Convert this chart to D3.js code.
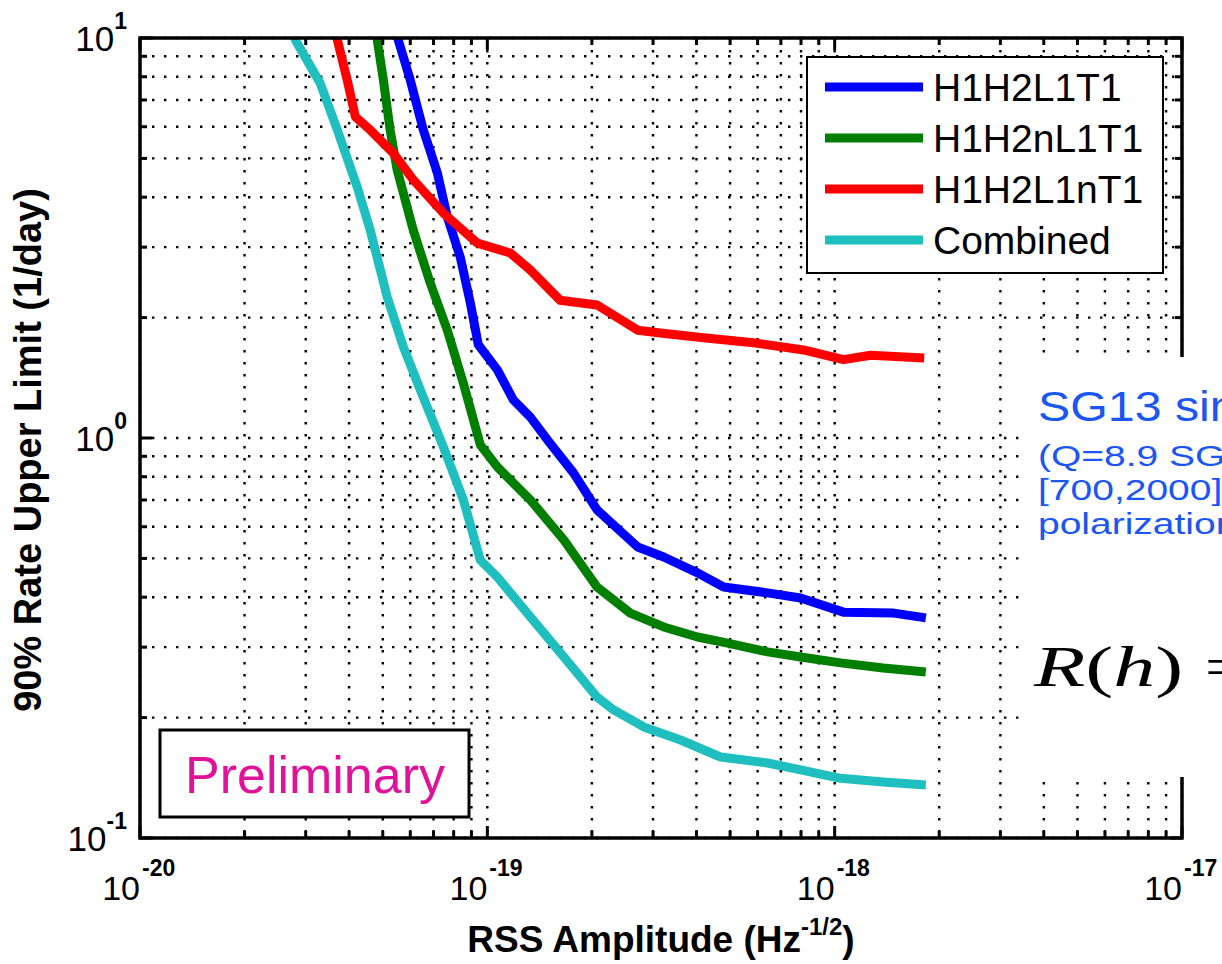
<!DOCTYPE html>
<html>
<head>
<meta charset="utf-8">
<script src="https://cdnjs.cloudflare.com/ajax/libs/d3/7.8.5/d3.min.js"></script>
<style>
  html, body { margin: 0; padding: 0; background: #fff; }
  svg { display: block; font-family: "Liberation Sans", Arial, sans-serif; }
</style>
</head>
<body>
<div id="chart"></div>
<script>
// values: RSS amplitude (Hz^-1/2) vs 90% rate upper limit (1/day)
const seriesNames = ['H1H2L1T1', 'H1H2nL1T1', 'H1H2L1nT1', 'Combined'];

const ampH1H2L1T1 = [5.43e-20, 5.54e-20, 6.00e-20, 6.54e-20, 7.18e-20, 7.67e-20, 8.36e-20, 8.93e-20, 9.42e-20,
  1.069e-19, 1.188e-19, 1.33e-19, 1.49e-19, 1.77e-19, 2.07e-19, 2.71e-19, 3.22e-19, 4.03e-19, 4.79e-19,
  6.41e-19, 7.98e-19, 1.06e-18, 1.48e-18, 1.83e-18];
const rateH1H2L1T1 = [10.6, 9.89, 7.85, 5.89, 4.60, 3.57, 2.83, 2.18, 1.71,
  1.48, 1.245, 1.128, 0.989, 0.818, 0.661, 0.534, 0.504, 0.460, 0.424,
  0.410, 0.398, 0.367, 0.365, 0.355];

const ampH1H2nL1T1 = [4.77e-20, 4.82e-20, 5.02e-20, 5.25e-20, 5.50e-20, 6.12e-20, 6.85e-20, 7.67e-20, 8.53e-20,
  9.55e-20, 1.069e-19, 1.33e-19, 1.66e-19, 2.07e-19, 2.58e-19, 3.22e-19, 4.03e-19, 4.92e-19,
  6.41e-19, 7.98e-19, 1.04e-18, 1.38e-18, 1.83e-18];
const rateH1H2nL1T1 = [10.6, 9.89, 7.85, 5.89, 4.68, 3.31, 2.44, 1.86, 1.37,
  0.960, 0.846, 0.700, 0.556, 0.424, 0.365, 0.337, 0.318, 0.307,
  0.292, 0.2835, 0.274, 0.266, 0.260];

const ampH1H2L1nT1 = [3.64e-20, 3.70e-20, 3.95e-20, 4.17e-20, 4.60e-20, 5.36e-20, 6.12e-20, 7.47e-20, 9.36e-20,
  1.165e-19, 1.33e-19, 1.62e-19, 2.07e-19, 2.71e-19, 3.15e-19, 4.19e-19, 5.84e-19, 8.14e-19,
  1.06e-18, 1.27e-18, 1.81e-18];
const rateH1H2L1nT1 = [10.6, 9.89, 7.85, 6.35, 5.89, 5.16, 4.42, 3.65, 3.07,
  2.90, 2.63, 2.21, 2.15, 1.86, 1.83, 1.78, 1.73, 1.66,
  1.57, 1.61, 1.585];

const ampCombined = [2.74e-20, 2.80e-20, 3.30e-20, 3.70e-20, 4.22e-20, 4.60e-20, 5.15e-20, 5.73e-20, 6.41e-20,
  7.47e-20, 8.53e-20, 9.55e-20, 1.069e-19, 1.33e-19, 1.66e-19, 2.07e-19, 2.31e-19, 2.82e-19,
  3.60e-19, 4.69e-19, 6.41e-19, 7.98e-19, 1.04e-18, 1.38e-18, 1.83e-18];
const rateCombined = [10.6, 9.89, 7.72, 5.89, 4.24, 3.31, 2.25, 1.69, 1.32,
  0.950, 0.700, 0.495, 0.449, 0.357, 0.2835, 0.225, 0.209, 0.1895,
  0.1758, 0.1594, 0.154, 0.148, 0.141, 0.138, 0.1357];

const xDecades = [-20, -19, -18, -17];
const yDecades = [-1, 0, 1];

// the note panel is cut by the right edge of the slide
const noteTitle = 'SG13 sine-Gaussians';
const noteLines = ['(Q=8.9 SG with frequency in', '[700,2000] Hz, random', 'polarization)'];


class RateLimitPlot {

  constructor(options) {
    this.root = options.root;
    this.width = 1222;
    this.height = 964;
    this.margin = {top: 38, right: 40, bottom: 126, left: 140};
    this.colours = ['#0000ff', '#007f00', '#ff0000', '#1fbfbf'];
    this.series = [
      {name: seriesNames[0], x: ampH1H2L1T1, y: rateH1H2L1T1},
      {name: seriesNames[1], x: ampH1H2nL1T1, y: rateH1H2nL1T1},
      {name: seriesNames[2], x: ampH1H2L1nT1, y: rateH1H2L1nT1},
      {name: seriesNames[3], x: ampCombined, y: rateCombined},
    ];
  }

  draw() {
    const m = this.margin;
    this.w = this.width - m.left - m.right;
    this.h = this.height - m.top - m.bottom;

    this.svg = this.root.append('svg')
      .attr('width', this.width)
      .attr('height', this.height);

    this.svg.append('rect')
      .attr('width', this.width).attr('height', this.height)
      .attr('fill', '#fff');

    this.x = d3.scaleLog().domain([1e-20, 1e-17]).range([0, this.w]);
    this.y = d3.scaleLog().domain([0.1, 10]).range([this.h, 0]);

    this.g = this.svg.append('g')
      .attr('transform', `translate(${m.left},${m.top})`);

    this.drawGrid();
    this.drawCurves();
    this.drawFrame();
    this.drawLegend();
    this.drawPreliminary();
    this.drawLabels();
    this.drawNote();
  }

  logTicks(decades) {
    const ticks = [];
    decades.forEach((p, i) => {
      if (i === decades.length - 1) return;
      for (let k = 2; k <= 9; k++) ticks.push(k * Math.pow(10, p));
    });
    return ticks;
  }

  drawGrid() {
    this.xMajor = xDecades.map(p => Math.pow(10, p));
    this.yMajor = yDecades.map(p => Math.pow(10, p));
    this.xMinor = this.logTicks(xDecades);
    this.yMinor = this.logTicks(yDecades);

    const grid = this.g.append('g')
      .attr('stroke', '#000')
      .attr('stroke-width', 2.4)
      .attr('stroke-dasharray', '2.4,9.6');

    grid.selectAll('.vgrid')
      .data(this.xMajor.concat(this.xMinor)).enter().append('line')
      .attr('x1', d => this.x(d)).attr('x2', d => this.x(d))
      .attr('y1', 0).attr('y2', this.h);

    grid.selectAll('.hgrid')
      .data(this.yMajor.concat(this.yMinor)).enter().append('line')
      .attr('y1', d => this.y(d)).attr('y2', d => this.y(d))
      .attr('x1', 0).attr('x2', this.w);
  }

  drawCurves() {
    this.g.append('clipPath').attr('id', 'plot-clip')
      .append('rect').attr('width', this.w).attr('height', this.h);

    const line = d3.line()
      .x(d => this.x(d[0]))
      .y(d => this.y(d[1]));

    this.g.append('g')
      .attr('clip-path', 'url(#plot-clip)')
      .selectAll('path')
      .data(this.series).enter().append('path')
      .attr('d', s => line(s.x.map((v, i) => [v, s.y[i]])))
      .attr('fill', 'none')
      .attr('stroke', (s, i) => this.colours[i])
      .attr('stroke-width', 9)
      .attr('stroke-linejoin', 'round');
  }

  drawFrame() {
    const ticks = this.g.append('g').attr('stroke', '#000').attr('stroke-width', 3);
    const major = 12, minor = 7;

    const addX = (vals, len) => {
      ticks.selectAll(null).data(vals).enter().append('line')
        .attr('x1', d => this.x(d)).attr('x2', d => this.x(d))
        .attr('y1', this.h).attr('y2', this.h - len);
      ticks.selectAll(null).data(vals).enter().append('line')
        .attr('x1', d => this.x(d)).attr('x2', d => this.x(d))
        .attr('y1', 0).attr('y2', len);
    };
    const addY = (vals, len) => {
      ticks.selectAll(null).data(vals).enter().append('line')
        .attr('y1', d => this.y(d)).attr('y2', d => this.y(d))
        .attr('x1', 0).attr('x2', len);
      ticks.selectAll(null).data(vals).enter().append('line')
        .attr('y1', d => this.y(d)).attr('y2', d => this.y(d))
        .attr('x1', this.w).attr('x2', this.w - len);
    };
    addX(this.xMajor, major); addX(this.xMinor, minor);
    addY(this.yMajor, major); addY(this.yMinor, minor);

    this.g.append('rect')
      .attr('width', this.w).attr('height', this.h)
      .attr('fill', 'none')
      .attr('stroke', '#000')
      .attr('stroke-width', 3.5);
  }

  drawLegend() {
    const lg = this.svg.append('g').attr('transform', 'translate(807,57)');
    lg.append('rect')
      .attr('width', 356).attr('height', 216)
      .attr('fill', '#fff').attr('stroke', '#000').attr('stroke-width', 2);

    const rows = lg.selectAll('.row')
      .data(this.series).enter().append('g')
      .attr('transform', (d, i) => `translate(0,${30 + i * 51})`);

    rows.append('line')
      .attr('x1', 18).attr('x2', 116)
      .attr('stroke', (d, i) => this.colours[i])
      .attr('stroke-width', 9);

    rows.append('text')
      .attr('x', 126).attr('y', 14)
      .attr('font-size', 39)
      .attr('fill', '#000')
      .text(d => d.name);
  }

  drawPreliminary() {
    const pb = this.svg.append('g').attr('transform', 'translate(160,730)');
    pb.append('rect')
      .attr('width', 309).attr('height', 87)
      .attr('fill', '#fff').attr('stroke', '#000').attr('stroke-width', 3);
    pb.append('text')
      .attr('x', 155).attr('y', 63)
      .attr('text-anchor', 'middle')
      .attr('font-size', 52)
      .attr('fill', '#e0129a')
      .text('Preliminary');
  }

  drawLabels() {
    const m = this.margin;

    const xl = this.svg.append('g').attr('font-size', 34).attr('fill', '#000');
    xDecades.forEach(p => {
      const px = m.left + this.x(Math.pow(10, p));
      xl.append('text').attr('x', px).attr('y', 900).attr('text-anchor', 'end').text('10');
      xl.append('text').attr('x', px + 2).attr('y', 876).attr('font-size', 23)
        .attr('font-weight', 'bold').text(p);
    });

    const yl = this.svg.append('g').attr('font-size', 35).attr('fill', '#000');
    yDecades.forEach(p => {
      const py = m.top + this.y(Math.pow(10, p));
      const t = yl.append('text').attr('x', 127).attr('y', py + 13).attr('text-anchor', 'end');
      t.append('tspan').text('10');
      t.append('tspan').attr('dy', -22).attr('font-size', 23).attr('font-weight', 'bold').text(p);
    });

    const xt = this.svg.append('text')
      .attr('x', m.left + this.w / 2).attr('y', 952)
      .attr('text-anchor', 'middle')
      .attr('font-size', 37).attr('font-weight', 'bold');
    xt.append('tspan').text('RSS Amplitude (Hz');
    xt.append('tspan').attr('dy', -17).attr('font-size', 24).text('-1/2');
    xt.append('tspan').attr('dy', 17).text(')');

    this.svg.append('text')
      .attr('transform', `translate(41,${m.top + this.h / 2 + 12}) rotate(-90)`)
      .attr('text-anchor', 'middle')
      .attr('font-size', 38).attr('font-weight', 'bold')
      .text('90% Rate Upper Limit (1/day)');
  }

  drawNote() {
    const note = this.svg.append('g');
    note.append('rect')
      .attr('x', 1020).attr('y', 357)
      .attr('width', 202).attr('height', 420)
      .attr('fill', '#fff');

    // slide text is stretched sideways in the picture
    note.append('text')
      .attr('transform', 'translate(1038,421) scale(1.15,1)')
      .attr('font-size', 42)
      .attr('fill', '#1a55f5')
      .text(noteTitle);

    note.selectAll('.nl')
      .data(noteLines).enter().append('text')
      .attr('transform', (d, i) => `translate(1038,${466 + i * 34}) scale(1.3,1)`)
      .attr('font-size', 30)
      .attr('fill', '#1a55f5')
      .text(d => d);

    const eq = note.append('text')
      .attr('transform', 'translate(1034,686) scale(1.5,1)')
      .attr('font-family', '"Liberation Serif", "DejaVu Serif", serif')
      .attr('font-size', 56)
      .attr('fill', '#000');
    eq.append('tspan').attr('font-style', 'italic').text('R');
    eq.append('tspan').text('(');
    eq.append('tspan').attr('font-style', 'italic').text('h');
    eq.append('tspan').text(') =');
  }
}

const plot = new RateLimitPlot({root: d3.select('#chart')});
plot.draw();
</script>
</body>
</html>
